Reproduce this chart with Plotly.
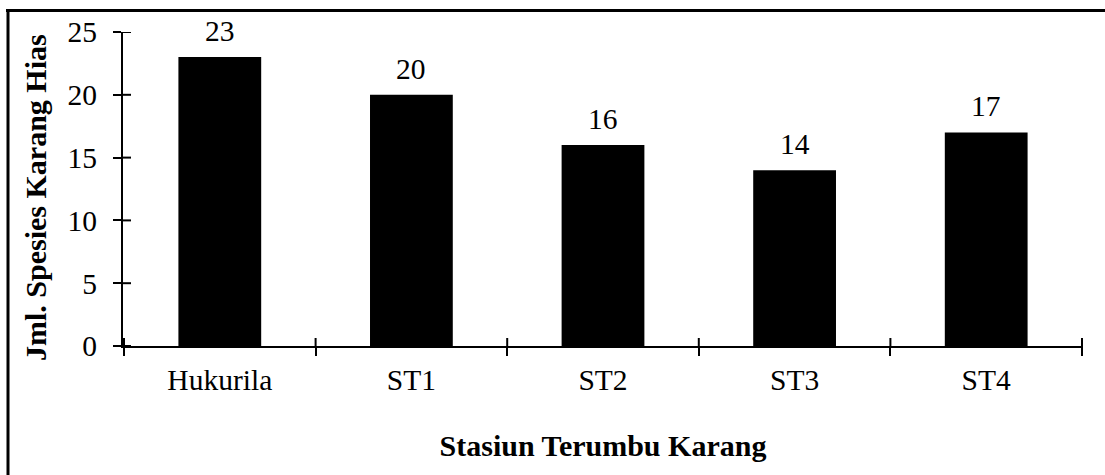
import plotly.graph_objects as go

# Number of ornamental coral species per station
stations = ["Hukurila", "ST1", "ST2", "ST3", "ST4"]
species_count = [23, 20, 16, 14, 17]
y_ticks = [0, 5, 10, 15, 20, 25]

FONT = "Liberation Serif, Times New Roman, serif"
LABEL_SIZE = 29.5
TITLE_SIZE = 30

# Plot-area geometry in pixels
W, H = 1105, 475
ML, MR, MT, MB = 123, 22, 32, 129
PW, PH = W - ML - MR, H - MT - MB
TICK = 8


def px_x(p):
    return (p - ML) / PW


def px_y(p):
    return (H - MB - p) / PH


fig = go.Figure()

fig.add_trace(go.Bar(
    x=stations,
    y=species_count,
    marker=dict(color="black", line=dict(width=0)),
    showlegend=False,
    hoverinfo="x+y",
))

# Value labels above each bar
for s, v in zip(stations, species_count):
    fig.add_annotation(
        x=s, y=v, xref="x", yref="y",
        text=str(v), showarrow=False,
        xanchor="center", yanchor="bottom", yshift=8,
        font=dict(family=FONT, size=LABEL_SIZE, color="black"),
    )

fig.update_layout(
    width=W,
    height=H,
    margin=dict(l=ML, r=MR, t=MT, b=MB),
    paper_bgcolor="white",
    plot_bgcolor="white",
    bargap=0.568,
    font=dict(family=FONT, size=LABEL_SIZE, color="black"),
    xaxis=dict(
        type="category",
        categoryarray=stations,
        tickson="boundaries",
        ticks="outside",
        ticklen=TICK,
        tickwidth=2,
        tickcolor="black",
        showline=True,
        linewidth=2,
        linecolor="black",
        showgrid=False,
        zeroline=False,
        ticklabelstandoff=7,
        tickfont=dict(family=FONT, size=LABEL_SIZE, color="black"),
        title=dict(text="<b>Stasiun Terumbu Karang</b>",
                   font=dict(family=FONT, size=TITLE_SIZE, color="black"),
                   standoff=40),
    ),
    yaxis=dict(
        range=[0, 25],
        tickvals=y_ticks,
        ticks="outside",
        ticklen=TICK,
        tickwidth=2,
        tickcolor="black",
        showline=True,
        linewidth=2,
        linecolor="black",
        showgrid=False,
        zeroline=False,
        ticklabelstandoff=10,
        tickfont=dict(family=FONT, size=LABEL_SIZE, color="black"),
    ),
)

# Y-axis title
fig.add_annotation(
    x=px_x(35), y=px_y(198), xref="paper", yref="paper",
    text="<b>Jml. Spesies Karang Hias</b>", textangle=-90, showarrow=False,
    xanchor="center", yanchor="middle",
    font=dict(family=FONT, size=TITLE_SIZE, color="black"),
)

# Inward halves of the crossing tick marks
for v in y_ticks:
    fig.add_shape(type="line", xref="paper", yref="y",
                  x0=0, x1=TICK / PW, y0=v, y1=v,
                  line=dict(color="black", width=2))
for i in range(len(stations) + 1):
    b = i - 0.5
    fig.add_shape(type="line", xref="x", yref="paper",
                  x0=b, x1=b, y0=0, y1=TICK / PH,
                  line=dict(color="black", width=2))

# Frame along the top and left edges of the figure
fig.add_shape(type="line", xref="paper", yref="paper",
              x0=px_x(6), x1=px_x(W), y0=px_y(10.5), y1=px_y(10.5),
              line=dict(color="black", width=3))
fig.add_shape(type="line", xref="paper", yref="paper",
              x0=px_x(8), x1=px_x(8), y0=px_y(9), y1=px_y(H),
              line=dict(color="black", width=3))

fig.write_html("out.html")
